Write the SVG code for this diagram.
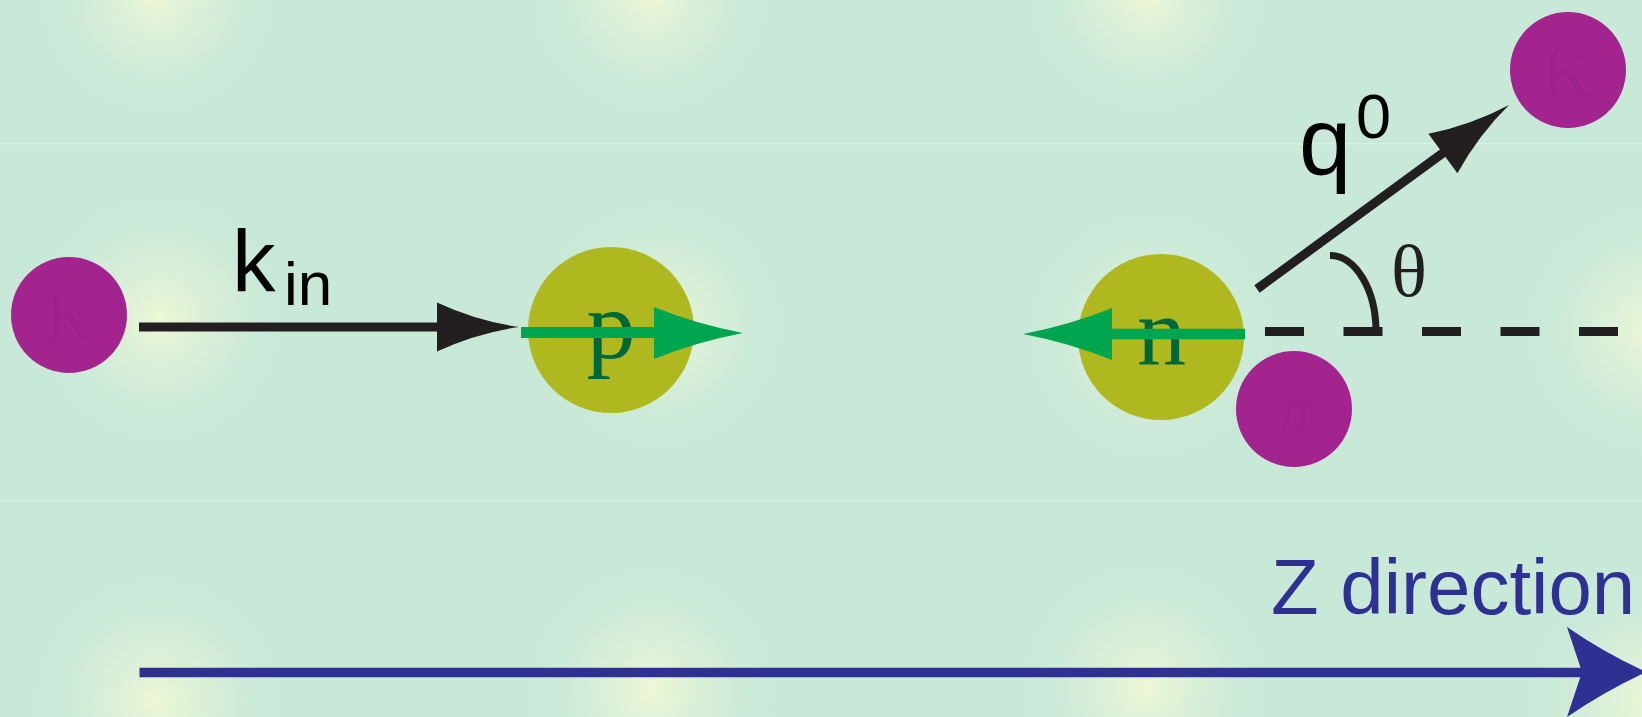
<svg xmlns="http://www.w3.org/2000/svg" width="1642" height="717" viewBox="0 0 1642 717">
<style>
.sans{font-family:"Liberation Sans",Arial,sans-serif}
.serif{font-family:"Liberation Serif","Times New Roman",serif}
.kaon{fill:#a3238f}
.nuc{fill:#afb91f}
.ghost{fill:#9e228c}
.nlab{fill:#006838;font-size:98px}
.blk{stroke:#231f20;stroke-width:9;fill:none}
</style>
<defs>
<radialGradient id="glow">
<stop offset="0" stop-color="#eef7d6"/>
<stop offset="0.5" stop-color="#dcf0d8" stop-opacity="0.6"/>
<stop offset="1" stop-color="#c9e9d8" stop-opacity="0"/>
</radialGradient>
<path id="bhead" d="M0,0 Q-42,-6 -82,-24.5 L-82,24.5 Q-42,6 0,0 Z"/>
<path id="ghead" d="M0,0 Q-47,-9 -89,-26 L-89,26 Q-47,9 0,0 Z"/>
</defs>
<g id="background">
<rect width="1642" height="717" fill="#c9e9d8"/>
<g fill="url(#glow)">
<circle cx="157" cy="-5" r="125"/>
<circle cx="650" cy="-5" r="125"/>
<circle cx="1146" cy="-5" r="125"/>
<circle cx="160" cy="318" r="130"/>
<circle cx="660" cy="325" r="130"/>
<circle cx="1150" cy="335" r="130"/>
<circle cx="1650" cy="330" r="130"/>
<circle cx="157" cy="700" r="130"/>
<circle cx="652" cy="690" r="130"/>
<circle cx="1146" cy="688" r="130"/>
<circle cx="1650" cy="700" r="130"/>
</g>
<rect x="0" y="143" width="1642" height="1.5" fill="#d8f0e4"/>
<rect x="0" y="500" width="1642" height="1.5" fill="#d8f0e4"/>
</g>
<g id="kaon-in">
<circle class="kaon" cx="69" cy="315" r="58"/>
<text class="serif ghost" x="71" y="342" font-size="71" text-anchor="middle">K</text>
</g>
<g id="proton">
<circle class="nuc" cx="611" cy="330" r="83"/>
<text class="serif nlab" x="611" y="358" text-anchor="middle">p</text>
</g>
<g id="neutron">
<circle class="nuc" cx="1161" cy="337" r="83"/>
<text class="serif nlab" x="1161.5" y="364" text-anchor="middle">n</text>
</g>
<g id="pion">
<circle class="kaon" cx="1294" cy="409" r="58"/>
<text class="serif ghost" x="1295" y="433" font-size="68" font-style="italic" text-anchor="middle">π</text>
</g>
<g id="kaon-out">
<circle class="kaon" cx="1568" cy="70" r="58"/>
<text class="serif ghost" x="1568" y="97" font-size="71" text-anchor="middle">K</text>
</g>
<g id="connectors">
<line class="blk" x1="139" y1="327" x2="442" y2="327"/>
<use href="#bhead" fill="#231f20" transform="translate(519,327)"/>
<line x1="521" y1="332.5" x2="658" y2="332.5" stroke="#00a54f" stroke-width="11"/>
<use href="#ghead" fill="#00a54f" transform="translate(743,333)"/>
<line x1="1245" y1="334" x2="1108" y2="334" stroke="#00a54f" stroke-width="10.5"/>
<use href="#ghead" fill="#00a54f" transform="translate(1023,334) rotate(180)"/>
<line class="blk" x1="1257" y1="289" x2="1447" y2="150"/>
<use href="#bhead" fill="#231f20" transform="translate(1509,105) rotate(-36.3)"/>
<line class="blk" x1="1265" y1="331.5" x2="1642" y2="331.5" stroke-dasharray="39 39.5"/>
<path d="M1330,255.5 A46,76 0 0 1 1376,331" stroke="#231f20" stroke-width="7" fill="none"/>
<line x1="139.5" y1="672.5" x2="1590" y2="672.5" stroke="#2e3192" stroke-width="9.5"/>
<path d="M1646,672 Q1603,652 1567,627 L1582,672 L1567,717 Q1603,692 1646,672 Z" fill="#2e3192"/>
</g>
<g id="labels">
<text class="sans" x="232" y="291" font-size="87" fill="#000">k</text>
<text class="sans" x="284" y="305" font-size="62" fill="#000">in</text>
<text class="sans" x="1299" y="174" font-size="94" fill="#000">q</text>
<text class="sans" x="1356" y="138" font-size="63" fill="#000">0</text>
<text class="serif" x="1409" y="296" font-size="75" fill="#231f20" text-anchor="middle">θ</text>
<text class="sans" x="1271" y="614" font-size="78" fill="#2e3192">Z direction</text>
</g>
</svg>
